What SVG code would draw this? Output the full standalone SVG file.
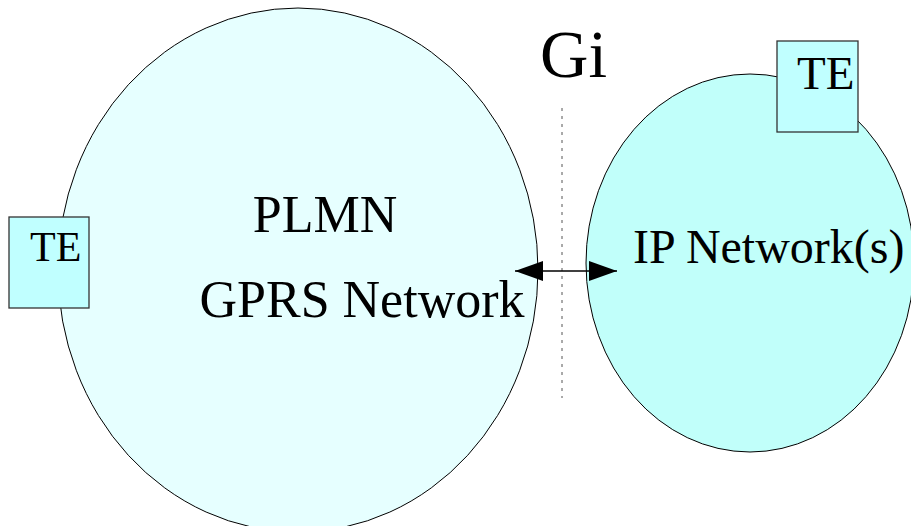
<svg xmlns="http://www.w3.org/2000/svg" width="911" height="526" viewBox="0 0 911 526">
<style>
.t{font-family:"Liberation Serif","Times New Roman",serif;fill:#000}
.box{fill:#C0FFFF;stroke:#333;stroke-width:1.3}
.ell{stroke:#000;stroke-width:1}
</style>
<defs>
<marker id="ah" viewBox="0 0 28 20" refX="28" refY="10" markerWidth="28" markerHeight="20" markerUnits="userSpaceOnUse" orient="auto-start-reverse">
<path d="M0,0 L28,10 L0,20 Z" fill="#000"/>
</marker>
</defs>
<rect width="911" height="526" fill="#fff"/>
<g id="plmn">
<ellipse class="ell" cx="298" cy="270" rx="240" ry="262" fill="#E6FFFF"/>
<text class="t" x="325" y="232" font-size="52" text-anchor="middle">PLMN</text>
<text class="t" x="362" y="317" font-size="52" text-anchor="middle">GPRS Network</text>
</g>
<g id="ipnet">
<ellipse class="ell" cx="750" cy="263" rx="164" ry="189" fill="#C1FFFA"/>
<text class="t" x="633" y="263" font-size="48">IP Network(s)</text>
</g>
<g id="te-left">
<rect class="box" x="9" y="217" width="80" height="91"/>
<text class="t" x="30" y="261" font-size="42">TE</text>
</g>
<g id="te-right">
<rect class="box" x="777" y="41" width="81" height="91"/>
<text class="t" x="797" y="89" font-size="47">TE</text>
</g>
<g id="gi">
<text class="t" x="540" y="77" font-size="67">Gi</text>
</g>
<g id="connectors">
<line x1="562" y1="108" x2="562" y2="398" stroke="#555" stroke-width="1" stroke-dasharray="3,5"/>
<line x1="515" y1="271" x2="617" y2="271" stroke="#000" stroke-width="1.5" marker-start="url(#ah)" marker-end="url(#ah)"/>
</g>
</svg>
